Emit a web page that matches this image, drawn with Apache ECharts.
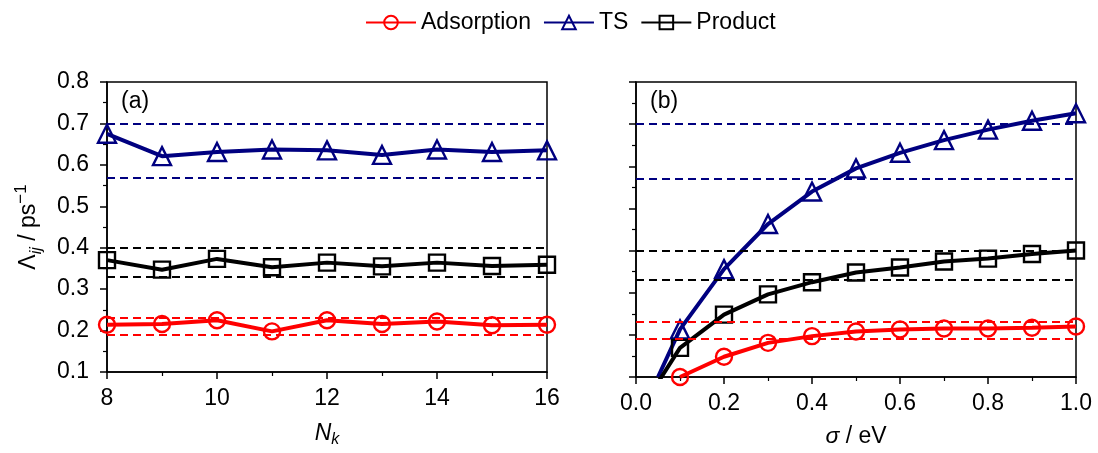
<!DOCTYPE html>
<html>
<head>
<meta charset="utf-8">
<script src="https://cdn.jsdelivr.net/npm/echarts@6/dist/echarts.min.js"></script>
<style>html,body{margin:0;padding:0;background:#fff}#c{width:1098px;height:453px}</style>
</head>
<body>
<div id="c"></div>
<script>
// ---- data ----
var Nk = [8, 9, 10, 11, 12, 13, 14, 15, 16];
var adsA = [0.214, 0.216, 0.225, 0.198, 0.225, 0.216, 0.222, 0.213, 0.214];
var tsA = [0.675, 0.621, 0.631, 0.637, 0.635, 0.624, 0.637, 0.631, 0.635];
var prodA = [0.370, 0.347, 0.373, 0.353, 0.364, 0.355, 0.364, 0.356, 0.359];
var adsBoundA = [0.235, 0.193];
var tsBoundA = [0.703, 0.574];
var prodBoundA = [0.396, 0.326];

var sigma = [0.1, 0.2, 0.3, 0.4, 0.5, 0.6, 0.7, 0.8, 0.9, 1.0];
var adsB = [0.100, 0.148, 0.181, 0.197, 0.208, 0.213, 0.215, 0.215, 0.217, 0.220];
var tsB = [0.213, 0.356, 0.463, 0.540, 0.595, 0.632, 0.662, 0.687, 0.708, 0.726];
var prodB = [0.169, 0.248, 0.296, 0.325, 0.348, 0.360, 0.374, 0.381, 0.392, 0.400];
var sigmaLow = 0.05;          // curve continues below the axis
var tsLow = 0.100;
var prodLow = 0.087;
var adsBoundB = [0.234, 0.192];
var tsBoundB = [0.697, 0.570];
var prodBoundB = [0.396, 0.325];

// ---- styling ----
var FONT = 'Liberation Sans';
var FS = 23;
var RED = '#ff0000', BLUE = '#000080', BLACK = '#000000';

function pairs(xs, ys) { return xs.map(function (x, i) { return [x, ys[i]]; }); }
function withLow(x0, y0, xs, ys) {
  return [{ value: [x0, y0], symbol: 'none' }].concat(pairs(xs, ys));
}
function bounds(vals, color) {
  return {
    symbol: 'none', silent: true, animation: false,
    label: { show: false },
    lineStyle: { type: [8, 5], width: 2.2, color: color },
    data: vals.map(function (v) { return { yAxis: v }; })
  };
}
function ser(name, gi, data, color, sym, b) {
  return {
    name: name, type: 'line', xAxisIndex: gi, yAxisIndex: gi,
    data: data, symbol: sym, symbolSize: sym === 'triangle' ? 18 : 16,
    z: 3,
    itemStyle: { color: 'rgba(255,255,255,0)', borderColor: color, borderWidth: 2.4 },
    lineStyle: { color: color, width: 4 },
    markLine: bounds(b, color),
    animation: false
  };
}
function xAxisCfg(gi, min, max, interval, nameRich, nameText, fmt) {
  return {
    type: 'value', gridIndex: gi, min: min, max: max, interval: interval,
    name: nameText, nameLocation: 'middle', nameGap: 48,
    nameTextStyle: { fontFamily: FONT, fontSize: FS, color: '#000', rich: nameRich },
    axisLine: { lineStyle: { color: '#000', width: 1.5 } },
    axisTick: { show: true, inside: false, length: 7, lineStyle: { color: '#000', width: 1.5 } },
    minorTick: { show: true, splitNumber: 2, length: 4, lineStyle: { color: '#000', width: 1.2 } },
    axisLabel: { fontFamily: FONT, fontSize: FS, color: '#000', margin: 15, formatter: fmt },
    splitLine: { show: false }
  };
}
function yAxisCfg(gi, showLabels) {
  return {
    type: 'value', gridIndex: gi, min: 0.1, max: 0.8, interval: 0.1,
    name: showLabels ? '{b|Λ}{sub|ij}{b| / ps}{sup|−1}' : '',
    nameLocation: 'middle', nameGap: 62, nameRotate: 90,
    nameTextStyle: {
      fontFamily: FONT, fontSize: FS, color: '#000',
      rich: {
        b: { fontFamily: FONT, fontSize: FS, color: '#000', lineHeight: 32, verticalAlign: 'middle' },
        sub: { fontFamily: FONT, fontSize: 16, fontStyle: 'italic', color: '#000', lineHeight: 13, verticalAlign: 'bottom' },
        sup: { fontFamily: FONT, fontSize: 17, color: '#000', lineHeight: 15, verticalAlign: 'top' }
      }
    },
    axisLine: { lineStyle: { color: '#000', width: 1.5 } },
    axisTick: { show: true, inside: false, length: 7, lineStyle: { color: '#000', width: 1.5 } },
    minorTick: { show: true, splitNumber: 2, length: 4, lineStyle: { color: '#000', width: 1.2 } },
    axisLabel: {
      show: showLabels, fontFamily: FONT, fontSize: FS, color: '#000', margin: 18,
      formatter: function (v) { return v.toFixed(1); }
    },
    splitLine: { show: false }
  };
}

var fmt1 = function (v) { return v.toFixed(1); };
var fmt0 = function (v) { return String(v); };

var option = {
  backgroundColor: '#fff',
  animation: false,
  legend: {
    data: ['Adsorption', 'TS', 'Product'],
    top: 6, left: 360,
    itemWidth: 50, itemHeight: 17, itemGap: 12,
    textStyle: { fontFamily: FONT, fontSize: FS, color: '#000' }
  },
  grid: [
    { left: 107, top: 82, width: 440, height: 296, show: true, borderColor: '#000', borderWidth: 1.5, backgroundColor: 'transparent' },
    { left: 636, top: 82, width: 440, height: 296, show: true, borderColor: '#000', borderWidth: 1.5, backgroundColor: 'transparent' }
  ],
  xAxis: [
    xAxisCfg(0, 8, 16, 2,
      { i: { fontFamily: FONT, fontSize: FS, fontStyle: 'italic', color: '#000', lineHeight: 28, verticalAlign: 'middle' },
        sub: { fontFamily: FONT, fontSize: 16, fontStyle: 'italic', color: '#000', lineHeight: 12, verticalAlign: 'bottom' } },
      '{i|N}{sub|k}', fmt0),
    xAxisCfg(1, 0, 1, 0.2,
      { i: { fontFamily: FONT, fontSize: FS, fontStyle: 'italic', color: '#000' },
        r: { fontFamily: FONT, fontSize: FS, color: '#000' } },
      '{i|σ}{r| / eV}', fmt1)
  ],
  yAxis: [yAxisCfg(0, true), yAxisCfg(1, false)],
  graphic: [
    { type: 'text', left: 121, top: 90, style: { text: '(a)', font: '23px "Liberation Sans"', fill: '#000' } },
    { type: 'text', left: 650, top: 90, style: { text: '(b)', font: '23px "Liberation Sans"', fill: '#000' } }
  ],
  series: [
    ser('Adsorption', 0, pairs(Nk, adsA), RED, 'circle', adsBoundA),
    ser('TS', 0, pairs(Nk, tsA), BLUE, 'triangle', tsBoundA),
    ser('Product', 0, pairs(Nk, prodA), BLACK, 'rect', prodBoundA),
    ser('Adsorption', 1, pairs(sigma, adsB), RED, 'circle', adsBoundB),
    ser('TS', 1, withLow(sigmaLow, tsLow, sigma, tsB), BLUE, 'triangle', tsBoundB),
    ser('Product', 1, withLow(sigmaLow, prodLow, sigma, prodB), BLACK, 'rect', prodBoundB)
  ]
};
var chart = echarts.init(document.getElementById('c'), null, { renderer: 'canvas' });
chart.setOption(option);
</script>
</body>
</html>
